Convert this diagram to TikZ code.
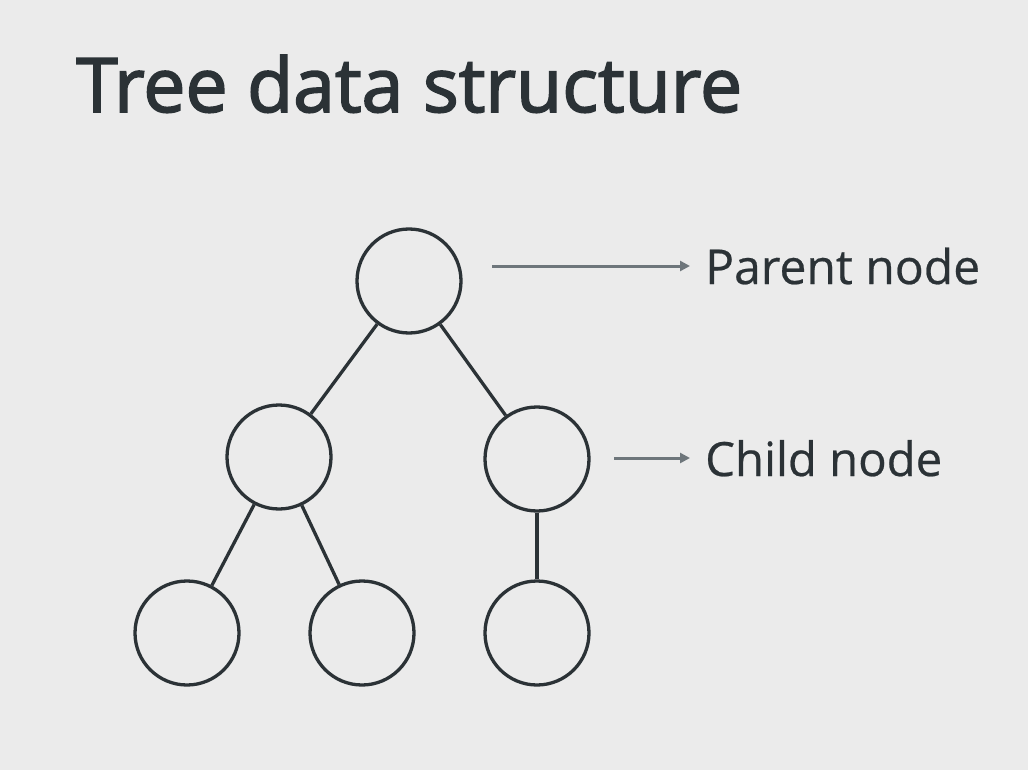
\documentclass[tikz,border=0pt]{standalone}
\usepackage{fontspec}
\setmainfont{Open Sans}
\usetikzlibrary{arrows.meta}
\definecolor{bg}{HTML}{EBEBEB}
\definecolor{ink}{HTML}{2B3236}
\definecolor{pointer}{HTML}{6E767B}
\begin{document}
\begin{tikzpicture}[x=1pt,y=-1pt,
  treenode/.style={circle,draw=ink,line width=3.3pt,minimum size=104pt,inner sep=0pt},
  edge/.style={draw=ink,line width=3.3pt},
  pointer/.style={draw=pointer,line width=3pt,-{Triangle[length=10pt,width=10pt]}},
  label/.style={anchor=base west,inner sep=0pt,text=ink}]
\fill[bg] (0,0) rectangle (1028,770);
\useasboundingbox (0,0) rectangle (1028,770);
\node[label] (title) at (76,112) {\resizebox{666pt}{!}{\fontsize{72}{80}\selectfont\addfontfeature{FakeBold=2.2}Tree data structure}};
\node[treenode] (root) at (409,281) {};
\node[treenode] (lc) at (279,457) {};
\node[treenode] (rc) at (537,459) {};
\node[treenode] (l1) at (187,633) {};
\node[treenode] (l2) at (362,633) {};
\node[treenode] (l3) at (537,633) {};
\draw[edge] (root) -- (lc);
\draw[edge] (root) -- (rc);
\draw[edge] (lc) -- (l1);
\draw[edge] (lc) -- (l2);
\draw[edge] (rc) -- (l3);
\coordinate (p0) at (492,266);
\coordinate (c0) at (614,458);
\node[label] (ptext) at (705,284) {\resizebox{275pt}{!}{\fontsize{44}{50}\selectfont\addfontfeature{FakeBold=0.5}Parent node}};
\node[label] (ctext) at (705,476) {\resizebox{237pt}{!}{\fontsize{44}{50}\selectfont\addfontfeature{FakeBold=0.5}Child node}};
\draw[pointer] (p0) -- (690,266) coordinate (p1);
\draw[pointer] (c0) -- (690,458) coordinate (c1);
\end{tikzpicture}
\end{document}
